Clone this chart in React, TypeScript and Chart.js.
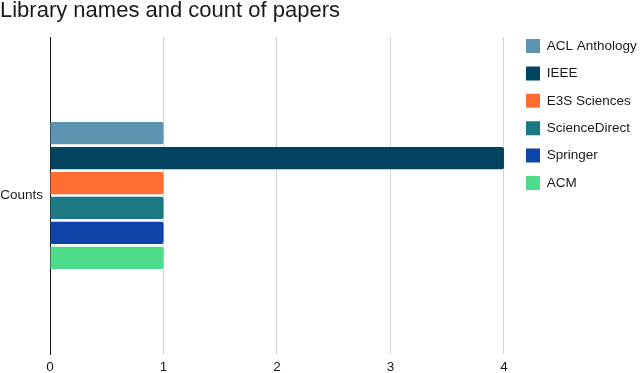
import React, { useEffect, useRef } from "react";
import { Chart, registerables } from "chart.js";

Chart.register(...registerables);

const categories = ["Counts"];
const seriesNames = ["ACL Anthology", "IEEE", "E3S Sciences", "ScienceDirect", "Springer", "ACM"];
const seriesValues = [1, 4, 1, 1, 1, 1];
const seriesColors = ["#5b93b0", "#02445f", "#ff6d31", "#1c7883", "#0e43a8", "#4edb8a"];
const xTicks = [0, 1, 2, 3, 4];

const FONT = "'Liberation Sans', Arial, sans-serif";

export default function App() {
  const ref = useRef<HTMLCanvasElement | null>(null);

  useEffect(() => {
    if (!ref.current) return;
    const chart = new Chart(ref.current, {
      type: "bar",
      data: {
        labels: categories,
        datasets: seriesNames.map((name, i) => ({
          label: name,
          data: [seriesValues[i]],
          backgroundColor: seriesColors[i],
          borderWidth: 0,
          borderRadius: 2,
          categoryPercentage: 0.473,
          barPercentage: 0.89,
        })),
      },
      options: {
        indexAxis: "y",
        animation: false,
        responsive: false,
        layout: { padding: 0 },
        plugins: {
          title: {
            display: true,
            text: "Library names and count of papers",
            align: "start",
            color: "#1a1a1a",
            font: { family: FONT, size: 22, weight: "normal", lineHeight: 1 },
            padding: { top: 0, bottom: 15 },
          },
          legend: {
            position: "right",
            align: "start",
            maxWidth: 127.4,
            title: {
              display: true,
              text: "",
              font: { family: FONT, size: 12, lineHeight: 1 },
              padding: { top: 0, bottom: 13.6 },
            },
            labels: {
              boxWidth: 14,
              boxHeight: 14,
              padding: 13.4,
              color: "#1a1a1a",
              font: { family: FONT, size: 13.5 },
            },
          },
          tooltip: { enabled: false },
        },
        scales: {
          x: {
            type: "linear",
            min: 0,
            max: 4.076,
            afterFit: (s: any) => {
              s.height = 19;
            },
            afterBuildTicks: (s: any) => {
              s.ticks = xTicks.map((v) => ({ value: v }));
            },
            ticks: {
              stepSize: 1,
              includeBounds: false,
              padding: 5,
              color: "#1a1a1a",
              font: { family: FONT, size: 13.5 },
            },
            grid: {
              color: "#d4d4d4",
              drawTicks: false,
              lineWidth: 1,
            },
            border: { display: false },
          },
          y: {
            type: "category",
            afterFit: (s: any) => {
              s.width = 50;
            },
            ticks: {
              padding: 7,
              color: "#1a1a1a",
              font: { family: FONT, size: 13.5 },
            },
            grid: { display: false, drawTicks: false },
            border: { display: true, color: "#1a1a1a", width: 1 },
          },
        },
      },
    });
    return () => chart.destroy();
  }, []);

  return (
    <div style={{ position: "absolute", left: 0, top: 0, width: 640, height: 373, background: "#fff" }}>
      <canvas ref={ref} width={640} height={373} style={{ display: "block" }} />
    </div>
  );
}
